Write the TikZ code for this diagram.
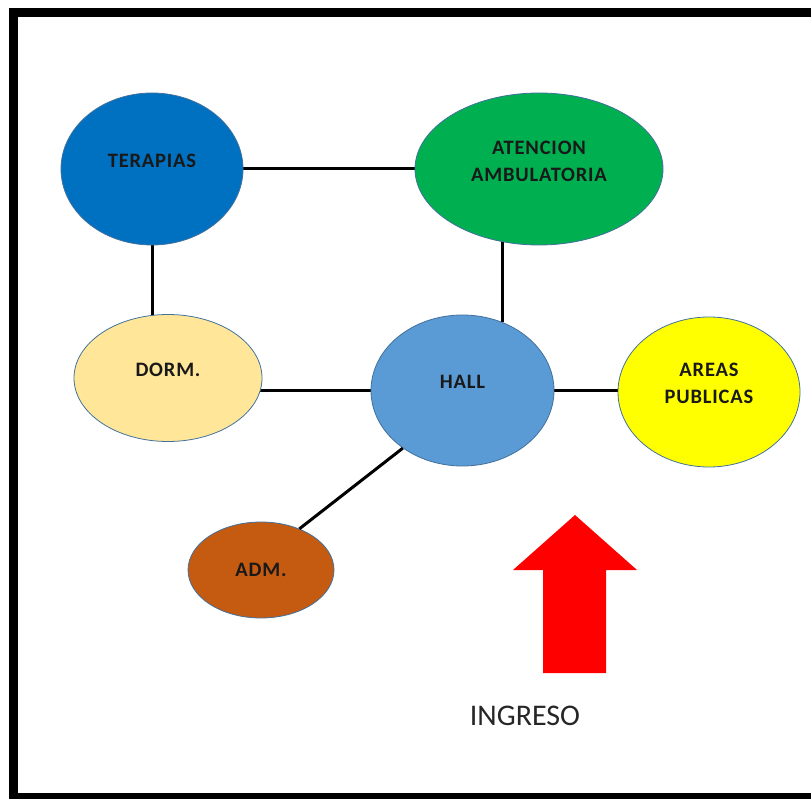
\documentclass[tikz,border=0pt]{standalone}
\usepackage{fontspec}
\setmainfont{Carlito}
\newfontfamily\roomfont{Carlito}[LetterSpace=4]
\usetikzlibrary{shapes.geometric, backgrounds}
\definecolor{roomline}{HTML}{41719C}
\definecolor{terapiascol}{HTML}{0070C0}
\definecolor{atencioncol}{HTML}{00B050}
\definecolor{dormcol}{HTML}{FFE699}
\definecolor{hallcol}{HTML}{5B9BD5}
\definecolor{areascol}{HTML}{FFFF00}
\definecolor{admcol}{HTML}{C55A11}
\definecolor{ingresocol}{HTML}{FF0000}

\begin{document}
\begin{tikzpicture}[x=1pt, y=-1pt,
	room/.style={shape=ellipse, draw=roomline, line width=0.8pt, inner sep=0pt},
	roomtext/.style={font=\roomfont\bfseries\fontsize{20.5}{27}\selectfont, align=center, text=black!90},
	wire/.style={line width=3pt, black}]
	\useasboundingbox (0,0) rectangle (811,799);
	% Frame, rooms and links:
	\draw[line width=9pt] (13,12.5) rectangle (830,797.5);
	\node[room, fill=terapiascol, minimum width=182pt, minimum height=152pt, label={[roomtext, yshift=8pt]center:TERAPIAS}] (T) at (152,169){};
	\node[room, fill=atencioncol, minimum width=248pt, minimum height=152pt, label={[roomtext, yshift=7.5pt]center:ATENCION\\AMBULATORIA}] (A) at (539,169){};
	\node[room, fill=dormcol, minimum width=188pt, minimum height=127pt, label={[roomtext, yshift=8pt]center:DORM.}] (D) at (168,378){};
	\node[room, fill=hallcol, minimum width=183pt, minimum height=151pt, label={[roomtext, yshift=9pt]center:HALL}] (H) at (462.5,390.5){};
	\node[room, fill=areascol, minimum width=182pt, minimum height=150pt, label={[roomtext, yshift=8.5pt]center:AREAS\\PUBLICAS}] (P) at (709,392){};
	\node[room, fill=admcol, minimum width=146pt, minimum height=96pt, label={[roomtext]center:ADM.}] (M) at (261,570){};
	\begin{scope}[on background layer]
		\draw[wire] (T) -- (A);
		\draw[wire] (T) -- (T |- D);
		\draw[wire] (H.60) -- (H.60 |- A);
		\draw[wire] (H) -- (H -| D);
		\draw[wire] (H) -- (H -| P);
	\end{scope}
	\draw[wire] (H.224) -- (M.47);
	\fill[ingresocol] (543,673) -- (543,570) -- (513,570) -- (575,515) -- (637,570) -- (606,570) -- (606,673) -- cycle;
	\node[font=\fontsize{30}{36}\selectfont, text=black!85] (I) at (525,716){INGRESO};
\end{tikzpicture}
\end{document}
